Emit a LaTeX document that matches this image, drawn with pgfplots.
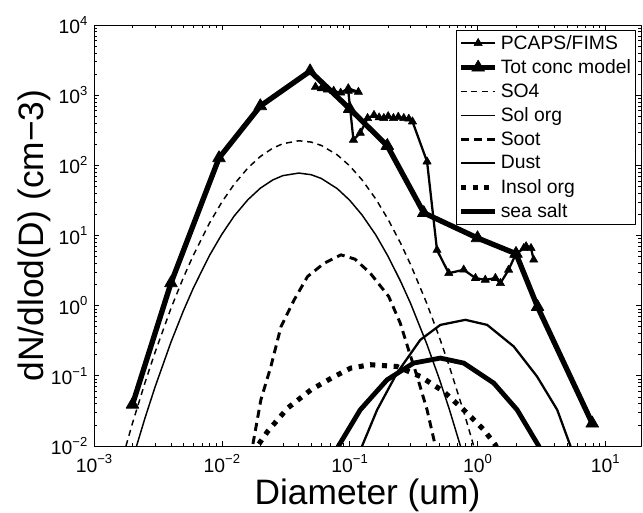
\documentclass[border=0pt]{standalone}
\usepackage{fontspec}
\setmainfont{Liberation Sans}
\usepackage{pgfplots}
\pgfplotsset{compat=1.18}
\newcommand{\pw}[1]{10\raisebox{6.3pt}{\fontsize{9.8}{10}\selectfont #1}}
\begin{document}
\begin{tikzpicture}
\path[use as bounding box] (-70.5pt,-50.25pt) rectangle (411.75pt,334.5pt);
\begin{axis}[
  scale only axis, width=410.25pt, height=315.75pt,
  xmode=log, ymode=log,
  xmin=1e-3, xmax=19, ymin=1e-2, ymax=1e4,
  axis line style={line width=0.6pt},
  tick style={line width=0.5pt, black},
  major tick length=4pt, minor tick length=2.2pt,
  xtick={1e-3,1e-2,1e-1,1,10},
  xticklabels={\pw{−3},\pw{−2},\pw{−1},\pw{0},\pw{1}},
  ytick={1e-2,1e-1,1,10,100,1000,10000},
  yticklabels={\pw{−2},\pw{−1},\pw{0},\pw{1},\pw{2},\pw{3},\pw{4}},
  tick label style={font=\fontsize{14.5}{16}\selectfont},
  xticklabel style={yshift=-3pt},
  yticklabel style={xshift=-1.5pt},
  xlabel={Diameter (um)},
  xlabel style={at={(axis description cs:0.5,-0.140)}, anchor=base, font=\fontsize{26.5}{30}\selectfont},
  ylabel={dN/dlod(D) (cm−3)},
  ylabel style={at={(axis description cs:-0.093,0.5)}, anchor=base, font=\fontsize{26.5}{30}\selectfont},
  legend cell align=left,
  legend style={at={(1,1)}, anchor=north east, xshift=-3.75pt, yshift=-3.75pt,
    draw=black, line width=0.75pt, fill=white,
    font=\fontsize{14.5}{16}\selectfont, inner sep=1.5pt, row sep=2.2pt},
  legend image code/.code={\draw[mark repeat=2,mark phase=2,line join=round] plot coordinates {(0pt,0pt) (13pt,0pt) (26pt,0pt)};},
  line join=round,
]
% PCAPS/FIMS
\addplot[black, line width=1.7pt, mark=triangle*, mark size=3.6pt, mark options={solid,line width=0.4pt}] coordinates {
(0.054,1310) (0.060,1250) (0.067,1200) (0.075,1150) (0.085,1080) (0.0975,1250) (0.117,1110) (0.0975,1150)
(0.107,230) (0.121,290) (0.138,470) (0.155,520) (0.17,480) (0.185,470) (0.20,500) (0.22,470) (0.24,490)
(0.265,470) (0.29,460) (0.31,420) (0.403,113) (0.482,6.2) (0.596,2.9) (0.78,3.25) (0.964,2.47) (1.15,2.33)
(1.38,2.47) (1.51,2.09) (1.75,3.24) (1.98,5.3) (2.30,6.6) (2.40,7.0) (2.62,6.6) (2.75,4.5)
};
\addlegendentry{PCAPS/FIMS}
% Tot conc model
\addplot[black, line width=4pt, mark=triangle*, mark size=5.5pt, mark options={solid,line width=0.5pt}] coordinates {
(0.002,0.039) (0.004,2.1) (0.0095,127) (0.02,700) (0.049,2200) (0.1,640) (0.197,190) (0.38,21)
(1.0,9.2) (2.0,5.5) (2.95,0.96) (7.9,0.021)
};
\addlegendentry{Tot conc model}
% SO4
\addplot[black, line width=1.1pt, dash pattern=on 4.5pt off 3.5pt] coordinates {
(0.0016,0.0051) (0.002,0.0211) (0.0025,0.079) (0.003,0.215) (0.004,0.916) (0.005,2.51) (0.006,5.28)
(0.008,15.0) (0.01,29.9) (0.0125,53.9) (0.016,91.8) (0.02,133.6) (0.025,175.5) (0.03,203.4) (0.04,223.9)
(0.05,214.4) (0.06,192.2) (0.08,140.7) (0.1,98.3) (0.125,62.0) (0.16,33.2) (0.2,16.9) (0.25,7.78)
(0.3,3.83) (0.4,1.09) (0.5,0.366) (0.6,0.139) (0.8,0.0264) (1.0,0.0065)
};
\addlegendentry{SO4}
% Sol org
\addplot[black, line width=1.1pt] coordinates {
(0.002,0.0064) (0.0025,0.0247) (0.003,0.0689) (0.004,0.302) (0.005,0.841) (0.006,1.80) (0.008,5.18)
(0.01,10.4) (0.0125,19.0) (0.016,32.4) (0.02,47.2) (0.025,61.8) (0.03,71.3) (0.04,77.6) (0.05,73.5)
(0.06,65.0) (0.08,46.5) (0.1,31.8) (0.125,19.6) (0.16,10.2) (0.2,5.02) (0.25,2.23) (0.3,1.07)
(0.4,0.288) (0.5,0.0927) (0.6,0.034) (0.8,0.0060)
};
\addlegendentry{Sol org}
% Soot
\addplot[black, line width=2.2pt, dash pattern=on 6pt off 4pt] coordinates {
(0.0165,0.0070) (0.0174,0.0100) (0.0202,0.0455) (0.0242,0.136) (0.029,0.50) (0.0368,1.21) (0.0468,2.60)
(0.0632,4.03) (0.0855,5.30) (0.11,4.6) (0.145,2.90) (0.202,1.35) (0.249,0.56) (0.289,0.234)
(0.337,0.098) (0.403,0.0328) (0.468,0.0100) (0.49,0.0070)
};
\addlegendentry{Soot}
% Dust
\addplot[black, line width=1.7pt] coordinates {
(0.118,0.0070) (0.125,0.0100) (0.164,0.0328) (0.234,0.109) (0.357,0.326) (0.512,0.532) (0.804,0.628)
(1.19,0.532) (1.92,0.262) (2.92,0.098) (4.20,0.0328) (5.33,0.0100) (5.7,0.0070)
};
\addlegendentry{Dust}
% Insol org
\addplot[black, line width=3.8pt, dash pattern=on 3.8pt off 5pt] coordinates {
(0.018,0.0075) (0.0190,0.0100) (0.0228,0.0161) (0.0327,0.0347) (0.0498,0.0632) (0.0757,0.0977)
(0.102,0.129) (0.145,0.144) (0.234,0.136) (0.357,0.098) (0.543,0.0598) (0.804,0.031) (1.12,0.017)
(1.38,0.0104) (1.45,0.0085)
};
\addlegendentry{Insol org}
% sea salt
\addplot[black, line width=3.6pt] coordinates {
(0.076,0.0070) (0.0818,0.0100) (0.121,0.0328) (0.196,0.0877) (0.316,0.152) (0.512,0.179) (0.780,0.152)
(1.34,0.0787) (2.04,0.0328) (3.01,0.0100) (3.2,0.0075)
};
\addlegendentry{sea salt}
\end{axis}
\end{tikzpicture}
\end{document}
